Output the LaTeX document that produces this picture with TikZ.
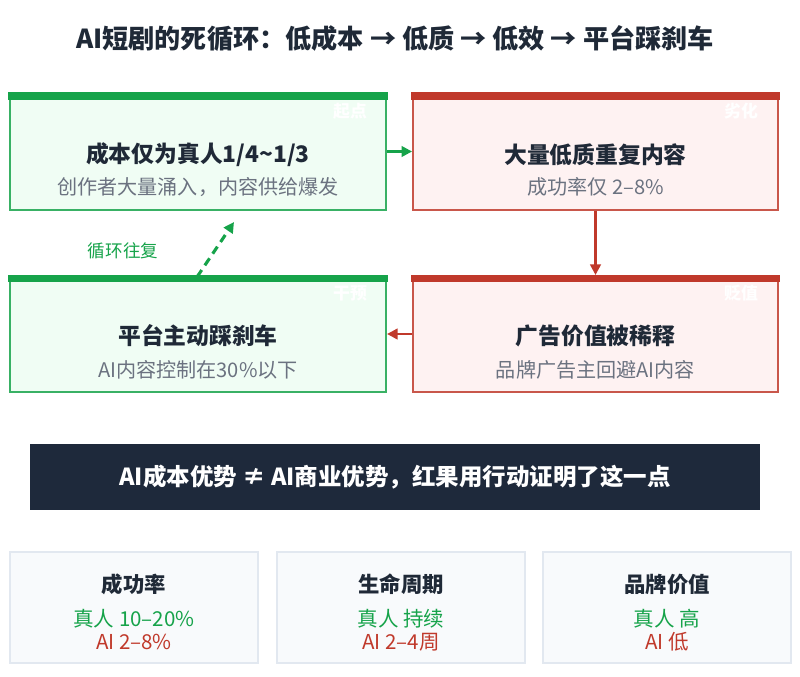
\documentclass[tikz,border=0pt]{standalone}
\usepackage{fontspec}
\setmainfont{Noto Sans CJK SC}
\usetikzlibrary{arrows.meta,positioning}

\definecolor{okgreen}{HTML}{16A34A}
\definecolor{okfill}{HTML}{F0FDF4}
\definecolor{badred}{HTML}{C0392B}
\definecolor{badfill}{HTML}{FEF2F2}
\definecolor{ink}{HTML}{1F2937}
\definecolor{muted}{HTML}{6B7280}
\definecolor{banner}{HTML}{1E293B}
\definecolor{cardfill}{HTML}{F8FAFC}
\definecolor{cardline}{HTML}{E2E8F0}

\begin{document}
\begin{tikzpicture}[
    x=0.025cm, y=-0.025cm,
    stage/.style={rectangle, line width=1.4pt, minimum height=2.9cm, inner sep=0pt},
    goodstage/.style={stage, draw=okgreen!85, fill=okfill, minimum width=9.4cm},
    badstage/.style={stage, draw=badred!85, fill=badfill, minimum width=9.12cm},
    headline/.style={font=\fontsize{16.2}{19}\selectfont\bfseries, text=ink},
    subline/.style={font=\fontsize{14.3}{17}\selectfont, text=muted},
    tag/.style={font=\fontsize{12}{14}\selectfont\bfseries, text=white},
    flow/.style={-{Triangle[length=7.5pt,width=7.5pt]}, line width=1.8pt},
    card/.style={rectangle, draw=cardline, fill=cardfill, line width=1.2pt, minimum width=6.2cm, minimum height=2.78cm, inner sep=0pt},
    cardhead/.style={font=\fontsize{15.2}{18}\selectfont\bfseries, text=ink},
    cardval/.style={font=\fontsize{14.6}{17}\selectfont}
]
\useasboundingbox (0,0) rectangle (800,676);

% title
\node (title) at (395,38) {\fontsize{18.6}{22}\selectfont\bfseries\color{ink}AI短剧的死循环：低成本 → 低质 → 低效 → 平台踩刹车};

% the four stages of the loop
\node[goodstage] (cheap)   at (198,151.5) {};
\node[badstage]  (flood)   at (595.5,151.5) {};
\node[goodstage] (brake)   at (198,334)   {};
\node[badstage]  (dilute)  at (595.5,334)   {};

\foreach \b/\c in {cheap/okgreen, flood/badred, brake/okgreen, dilute/badred}
    \fill[\c] ([xshift=-0.7pt]\b.north west) rectangle ([xshift=0.7pt, yshift=-5pt]\b.north east);

\node[tag] (tagcheap)  at (350,111) {起点};
\node[tag] (tagflood)  at (741,111) {劣化};
\node[tag] (tagbrake)  at (350,293) {干预};
\node[tag] (tagdilute) at (741,293) {贬值};

\node[headline] (cheaphead)  at (198,155) {成本仅为真人1/4\textasciitilde1/3};
\node[subline]  (cheapsub)   at (198,187) {创作者大量涌入，内容供给爆发};
\node[headline] (floodhead)  at (595.5,155) {大量低质重复内容};
\node[subline]  (floodsub)   at (595.5,187) {成功率仅 2–8\%};
\node[headline] (brakehead)  at (198,336) {平台主动踩刹车};
\node[subline]  (brakesub)   at (198,370) {AI内容控制在30\%以下};
\node[headline] (dilutehead) at (595.5,336) {广告价值被稀释};
\node[subline]  (dilutesub)  at (595.5,370) {品牌广告主回避AI内容};

\draw[flow, okgreen] (cheap) -- (flood);
\draw[flow, badred] (flood) -- (dilute);
\draw[flow, badred] (dilute) -- (brake);

% back to the start
\coordinate (loopfrom) at (197,277);
\coordinate (loopto) at (234,222);
\draw[flow, okgreen, line width=2.2pt, dash pattern=on 6pt off 4pt] (loopfrom) -- (loopto);
\node[font=\fontsize{12.5}{15}\selectfont, text=okgreen] (looptext) at (123,251) {循环往复};

% conclusion
\node[rectangle, fill=banner, minimum width=18.25cm, minimum height=1.65cm] (verdict) at (395,477)
    {\fontsize{16.7}{20}\selectfont\bfseries\color{white}AI成本优势 ≠ AI商业优势，红果用行动证明了这一点};

% comparison cards
\node[card] (rate)  at (134,607.5) {};
\node[card] (life)  at (401,607.5) {};
\node[card] (brand) at (667,607.5) {};

\node[cardhead] (ratehead) at (134,584) {成功率};
\node[cardval, text=okgreen] (ratereal) at (134,619) {真人 10–20\%};
\node[cardval, text=badred]  (rateai)   at (134,642) {AI 2–8\%};

\node[cardhead] (lifehead) at (401,584) {生命周期};
\node[cardval, text=okgreen] (lifereal) at (401,619) {真人 持续};
\node[cardval, text=badred]  (lifeai)   at (401,642) {AI 2–4周};

\node[cardhead] (brandhead) at (667,584) {品牌价值};
\node[cardval, text=okgreen] (brandreal) at (667,619) {真人 高};
\node[cardval, text=badred]  (brandai)   at (667,642) {AI 低};

\end{tikzpicture}
\end{document}
